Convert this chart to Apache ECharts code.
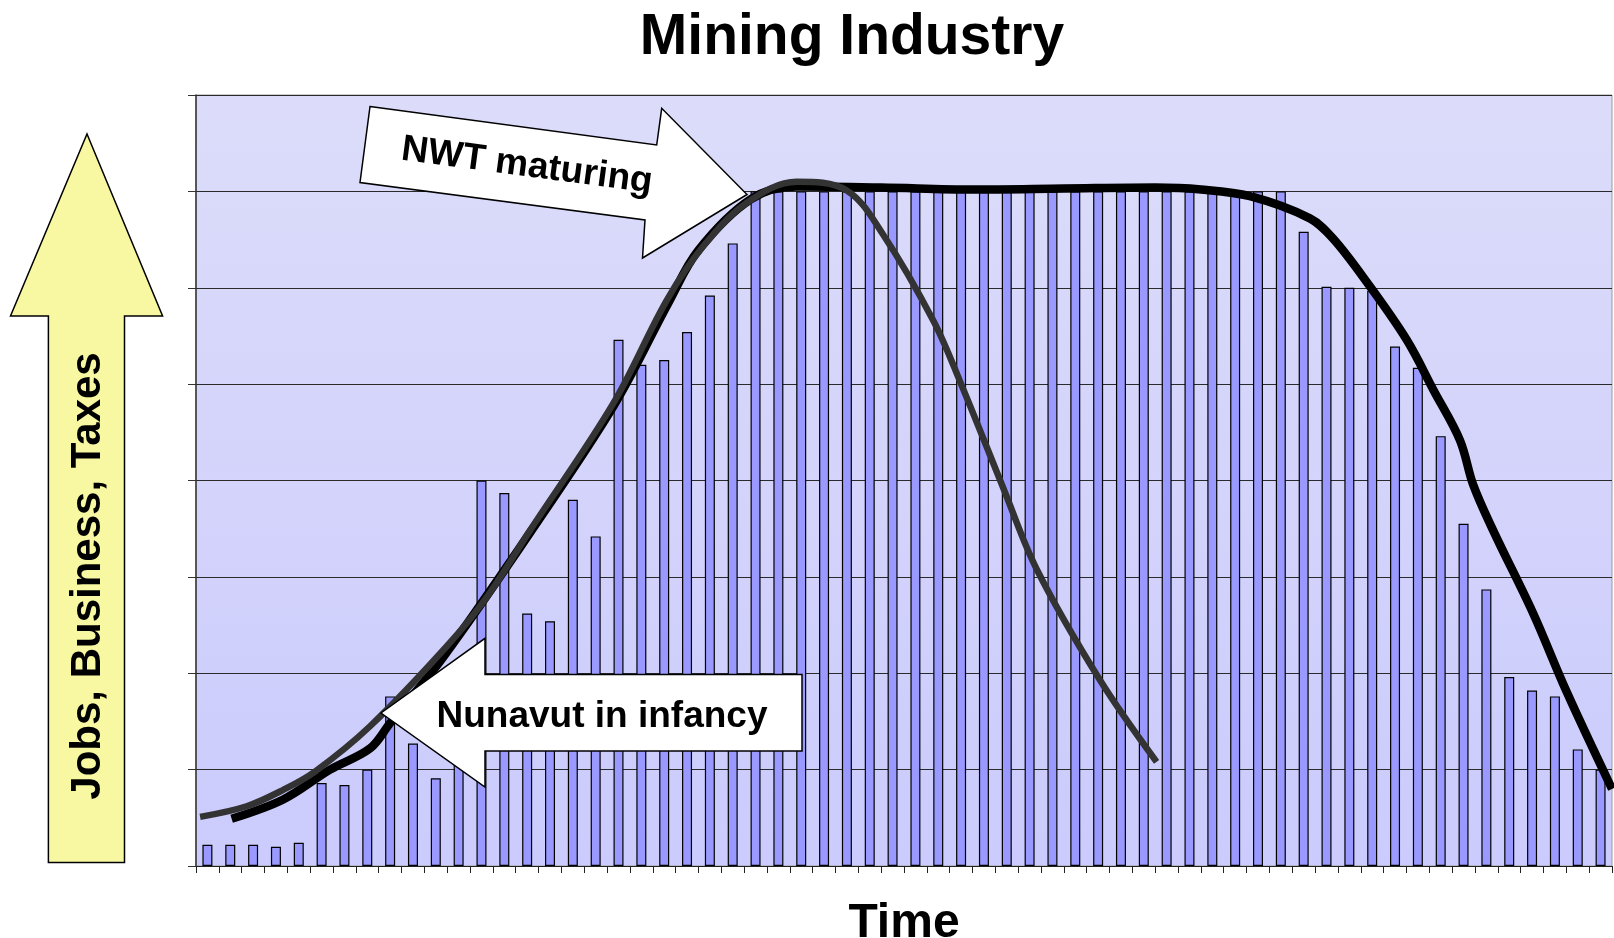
<!DOCTYPE html>
<html>
<head>
<meta charset="utf-8">
<title>Mining Industry</title>
<script src="https://cdn.jsdelivr.net/npm/echarts@6/dist/echarts.min.js"></script>
<style>
  html, body { margin: 0; padding: 0; background: #ffffff; }
  #chart { width: 1614px; height: 938px; }
</style>
</head>
<body>
<div id="chart"></div>
<script>
const FONT = '"Liberation Sans", Arial, Helvetica, sans-serif';

// time steps along the x axis (no labels shown)
const periods = [
  1, 2, 3, 4, 5, 6, 7, 8, 9, 10, 11, 12, 13, 14, 15, 16, 17, 18, 19, 20,
  21, 22, 23, 24, 25, 26, 27, 28, 29, 30, 31, 32, 33, 34, 35, 36, 37, 38, 39, 40,
  41, 42, 43, 44, 45, 46, 47, 48, 49, 50, 51, 52, 53, 54, 55, 56, 57, 58, 59, 60,
  61, 62,
];

// bar heights, in grid units (0..8)
const activity = [
  0.22, 0.22, 0.22, 0.20, 0.24, 0.86, 0.84, 1.00, 1.76, 1.27,
  0.91, 1.10, 4.00, 3.87, 2.62, 2.54, 3.80, 3.42, 5.46, 5.20,
  5.25, 5.54, 5.92, 6.46, 7.00, 7.00, 7.00, 7.00, 7.00, 7.00,
  7.00, 7.00, 7.00, 7.00, 7.00, 7.00, 7.00, 7.00, 7.00, 7.00,
  7.00, 7.00, 7.00, 7.00, 7.00, 7.00, 7.00, 7.00, 6.58, 6.01,
  6.00, 5.97, 5.39, 5.17, 4.46, 3.55, 2.87, 1.96, 1.82, 1.76,
  1.21, 1.00,
];

// long black curve: [position in periods, level]
const plateauCurve = [
  [1.56, 0.49], [3.82, 0.69], [5.87, 1.0], [7.62, 1.22], [8.49, 1.48],
  [10.83, 2.17], [14.6, 3.45], [18.3, 4.78], [20.7, 5.85], [22.0, 6.39],
  [24.3, 6.92], [26.3, 7.05], [30, 7.04], [34, 7.02], [38, 7.03],
  [42, 7.04], [44, 7.02], [46.15, 6.95], [48.77, 6.72], [49.79, 6.51],
  [51.26, 6.06], [53.01, 5.46], [54.18, 4.94], [55.34, 4.42], [55.93, 3.95],
  [56.8, 3.48], [58.55, 2.62], [60.01, 1.81], [62, 0.8],
];

// shorter grey bell curve
const bellCurve = [
  [0.18, 0.51], [2.22, 0.62], [3.82, 0.79], [5.21, 0.98], [7.62, 1.45],
  [10.98, 2.28], [12.73, 2.79], [14.62, 3.48], [18.27, 4.8], [20.61, 5.87],
  [22.21, 6.43], [24.11, 6.88], [26.3, 7.1], [28.49, 7.01], [30.09, 6.55],
  [32.28, 5.66], [33.45, 5.03], [35.35, 3.92], [36.81, 3.08], [39.58, 1.93],
  [42.06, 1.08],
];

const chart = echarts.init(document.getElementById('chart'));

const textStyle = (size) => ({
  fontFamily: FONT,
  fontWeight: 'bold',
  fontSize: size,
  fill: '#000',
  align: 'center',
  verticalAlign: 'middle',
});

const option = {
  animation: false,
  title: {
    text: 'Mining Industry',
    left: 852,
    top: 10,
    textAlign: 'center',
    padding: 0,
    textStyle: {
      fontFamily: FONT,
      fontWeight: 'bold',
      fontSize: 57,
      color: '#000',
    },
  },
  grid: {
    left: 196,
    right: 2,
    top: 95,
    bottom: 72,
    containLabel: false,
    outerBoundsMode: 'none',
    show: true,
    borderColor: '#9a9a9a',
    borderWidth: 1,
    backgroundColor: new echarts.graphic.LinearGradient(0, 0, 0, 1, [
      { offset: 0, color: '#dcdcfa' },
      { offset: 1, color: '#cbcbfd' },
    ]),
  },
  xAxis: [
    {
      type: 'category',
      data: periods,
      boundaryGap: true,
      axisLabel: { show: false },
      axisTick: {
        show: true, interval: 0, length: 7, lineStyle: { color: '#222' },
      },
      axisLine: { show: true, lineStyle: { color: '#222', width: 1 } },
      splitLine: { show: false },
      name: 'Time',
      nameLocation: 'middle',
      nameGap: 34,
      nameTextStyle: {
        fontFamily: FONT,
        fontWeight: 'bold',
        fontSize: 48,
        color: '#000',
      },
    },
    {
      // helper axis so the curves can start/end between periods
      type: 'value',
      min: 0,
      max: 62,
      show: false,
    },
  ],
  yAxis: {
    type: 'value',
    min: 0,
    max: 8,
    interval: 1,
    axisLabel: { show: false },
    axisLine: { show: true, lineStyle: { color: '#333', width: 1.5 } },
    axisTick: { show: true, length: 8, lineStyle: { color: '#333' } },
    splitLine: { show: true, lineStyle: { color: '#2a2a2a', width: 1 } },
  },
  series: [
    {
      type: 'bar',
      data: activity,
      barWidth: 10,
      itemStyle: {
        color: '#9999ff',
        borderColor: '#000',
        borderWidth: 1.2,
      },
      silent: true,
    },
    {
      type: 'line',
      xAxisIndex: 1,
      data: plateauCurve,
      smooth: 0.35,
      showSymbol: false,
      symbol: 'none',
      lineStyle: { color: '#000', width: 8.5, cap: 'butt' },
      z: 3,
      silent: true,
    },
    {
      type: 'line',
      xAxisIndex: 1,
      data: bellCurve,
      smooth: 0.35,
      showSymbol: false,
      symbol: 'none',
      lineStyle: { color: '#333333', width: 6.5, cap: 'butt' },
      z: 4,
      silent: true,
    },
  ],
  graphic: [
    // yellow arrow on the left
    {
      type: 'polygon',
      z: 100,
      shape: {
        points: [[87, 134], [162.6, 316], [124.5, 316], [124.5, 862.6],
          [48.4, 862.6], [48.4, 316], [10.5, 316]],
      },
      style: { fill: '#f8f8a2', stroke: '#000', lineWidth: 1.5 },
    },
    {
      type: 'text',
      z: 101,
      x: 88,
      y: 576,
      rotation: Math.PI / 2,
      style: Object.assign({ text: 'Jobs, Business, Taxes' }, textStyle(42)),
    },
    // NWT arrow (tilted)
    {
      type: 'polygon',
      z: 100,
      shape: {
        points: [[370, 106.5], [656.7, 145], [661.7, 108.3], [747, 194.5],
          [642.5, 258], [645, 220], [360, 182.5]],
      },
      style: { fill: '#ffffff', stroke: '#000', lineWidth: 1.5 },
    },
    {
      type: 'text',
      z: 101,
      x: 527,
      y: 166,
      rotation: -0.1326,
      style: Object.assign({ text: 'NWT maturing' }, textStyle(37)),
    },
    // Nunavut arrow
    {
      type: 'polygon',
      z: 100,
      shape: {
        points: [[381, 713], [485, 638.3], [485, 674.5], [802, 674.5],
          [802, 751], [485, 751], [485, 787]],
      },
      style: { fill: '#ffffff', stroke: '#000', lineWidth: 1.5 },
    },
    {
      type: 'text',
      z: 101,
      x: 602,
      y: 717,
      style: Object.assign({ text: 'Nunavut in infancy' }, textStyle(37)),
    },
  ],
};

chart.setOption(option);
window.addEventListener('resize', () => chart.resize());
</script>
</body>
</html>
